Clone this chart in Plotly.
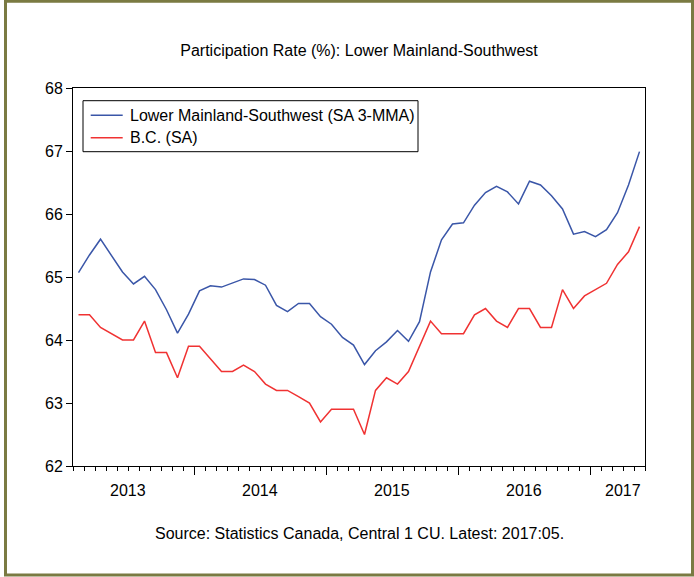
import plotly.graph_objects as go
import pandas as pd

# Monthly observations 2013:02 .. 2017:05
months = [str(p) for p in pd.period_range("2013-02", "2017-05", freq="M")]

lower_mainland = [
    65.07, 65.35, 65.60, 65.35, 65.08, 64.89, 65.01, 64.80, 64.48, 64.11,
    64.41, 64.78, 64.86, 64.84, 64.91, 64.97, 64.96, 64.87, 64.55, 64.45,
    64.58, 64.58, 64.37, 64.25, 64.04, 63.92, 63.61, 63.83, 63.97, 64.15,
    63.98, 64.29, 65.08, 65.59, 65.84, 65.86, 66.14, 66.34, 66.44, 66.35,
    66.16, 66.52, 66.46, 66.29, 66.08, 65.68, 65.72, 65.64, 65.75, 66.02,
    66.46, 66.99,
]
bc = [
    64.4, 64.4, 64.2, 64.1, 64.0, 64.0, 64.3, 63.8, 63.8, 63.4,
    63.9, 63.9, 63.7, 63.5, 63.5, 63.6, 63.5, 63.3, 63.2, 63.2,
    63.1, 63.0, 62.7, 62.9, 62.9, 62.9, 62.5, 63.2, 63.4, 63.3,
    63.5, 63.9, 64.3, 64.1, 64.1, 64.1, 64.4, 64.5, 64.3, 64.2,
    64.5, 64.5, 64.2, 64.2, 64.8, 64.5, 64.7, 64.8, 64.9, 65.2,
    65.4, 65.8,
]
years = ["2013", "2014", "2015", "2016", "2017"]
y_ticks = [62, 63, 64, 65, 66, 67, 68]

series_names = ["Lower Mainland-Southwest (SA 3-MMA)", "B.C. (SA)"]
series_colors = ["#3a56a8", "#f03232"]

title_text = "Participation Rate (%): Lower Mainland-Southwest"
source_text = "Source: Statistics Canada, Central 1 CU. Latest: 2017:05."

FONT = "Liberation Sans, Arial, sans-serif"

idx = list(range(len(months)))
x_lo, x_hi = -0.5, len(months) - 0.5

W, H = 694, 577
L, R, T, B = 73, 49, 88, 111
pw, ph = W - L - R, H - T - B


def px_to_paper_x(px):
    return (px - L) / pw


def px_to_paper_y(py):
    return (H - B - py) / ph


fig = go.Figure()
for name, vals, col in zip(series_names, [lower_mainland, bc], series_colors):
    fig.add_trace(go.Scatter(
        x=idx, y=vals, mode="lines", name=name,
        line=dict(color=col, width=1.5),
        customdata=months,
        hovertemplate="%{customdata}: %{y}<extra>" + name + "</extra>",
    ))

# major tick positions: boundary before each January
jan_bounds = [i - 0.5 for i, m in enumerate(months) if m.endswith("-01")]

annotations = []
shapes = []
for yr in years:
    inds = [i for i, m in enumerate(months) if m.startswith(yr)]
    first_month = int(months[inds[0]][5:])
    start = inds[0] - (first_month - 1) - 0.5
    center = start + 6
    if center + 1.0 > x_hi:
        annotations.append(dict(x=x_hi, xref="x", xanchor="right", xshift=-2,
                                y=px_to_paper_y(490), yref="paper", yanchor="middle",
                                text=yr, showarrow=False,
                                font=dict(family=FONT, size=16, color="black")))
    else:
        annotations.append(dict(x=center, xref="x", xanchor="center",
                                y=px_to_paper_y(490), yref="paper", yanchor="middle",
                                text=yr, showarrow=False,
                                font=dict(family=FONT, size=16, color="black")))

annotations.append(dict(x=0.5, xref="paper", xanchor="center",
                        y=px_to_paper_y(533), yref="paper", yanchor="middle",
                        text=source_text, showarrow=False,
                        font=dict(family=FONT, size=16, color="black")))

# legend (drawn as a boxed key inside the plot area)
leg_left, leg_right, leg_top, leg_bottom = 83, 418, 100.7, 151.7
leg_rows = [115.3, 137.7]
shapes.append(dict(type="rect", xref="paper", yref="paper",
                   x0=px_to_paper_x(leg_left), x1=px_to_paper_x(leg_right),
                   y0=px_to_paper_y(leg_bottom), y1=px_to_paper_y(leg_top),
                   line=dict(color="black", width=1), fillcolor="white", layer="above"))
for name, col, ry in zip(series_names, series_colors, leg_rows):
    shapes.append(dict(type="line", xref="paper", yref="paper",
                       x0=px_to_paper_x(90.7), x1=px_to_paper_x(122.7),
                       y0=px_to_paper_y(ry), y1=px_to_paper_y(ry),
                       line=dict(color=col, width=1.5), layer="above"))
    annotations.append(dict(x=px_to_paper_x(128), xref="paper", xanchor="left",
                            y=px_to_paper_y(ry), yref="paper", yanchor="middle",
                            text=name, showarrow=False,
                            font=dict(family=FONT, size=16, color="black")))

# outer olive frame
shapes.append(dict(type="rect", xref="paper", yref="paper",
                   x0=px_to_paper_x(5.5), x1=px_to_paper_x(692.5),
                   y0=px_to_paper_y(575), y1=px_to_paper_y(1.2),
                   line=dict(color="#7a7a42", width=3), layer="above"))

fig.update_layout(
    width=W, height=H,
    margin=dict(l=L, r=R, t=T, b=B, pad=0),
    paper_bgcolor="white", plot_bgcolor="white",
    title=dict(text=title_text, x=px_to_paper_x(359), xref="paper", xanchor="center",
               y=1 - 50.5 / H, yref="container", yanchor="middle",
               font=dict(family=FONT, size=16, color="black")),
    font=dict(family=FONT, size=16, color="black"),
    showlegend=False,
    annotations=annotations,
    shapes=shapes,
)

fig.update_xaxes(
    range=[x_lo, x_hi], showgrid=False, zeroline=False,
    showline=True, linecolor="black", linewidth=1, mirror=True,
    tickmode="array", tickvals=jan_bounds, ticktext=[""] * len(jan_bounds),
    ticks="outside", ticklen=8, tickcolor="black", tickwidth=1,
    minor=dict(tickmode="linear", tick0=x_lo, dtick=1, ticks="outside",
               ticklen=4, tickcolor="black", tickwidth=1, showgrid=False),
)
fig.update_yaxes(
    range=[62, 68], showgrid=False, zeroline=False,
    showline=True, linecolor="black", linewidth=1, mirror=True,
    tickmode="array", tickvals=y_ticks, ticktext=[str(v) for v in y_ticks],
    ticks="outside", ticklen=6, tickcolor="black", tickwidth=1,
    tickfont=dict(family=FONT, size=16, color="black"),
    ticklabelstandoff=0,
)

fig.write_html("out.html", config={"displayModeBar": False},
               post_script="document.body.style.margin='0';document.body.style.overflow='hidden';")
